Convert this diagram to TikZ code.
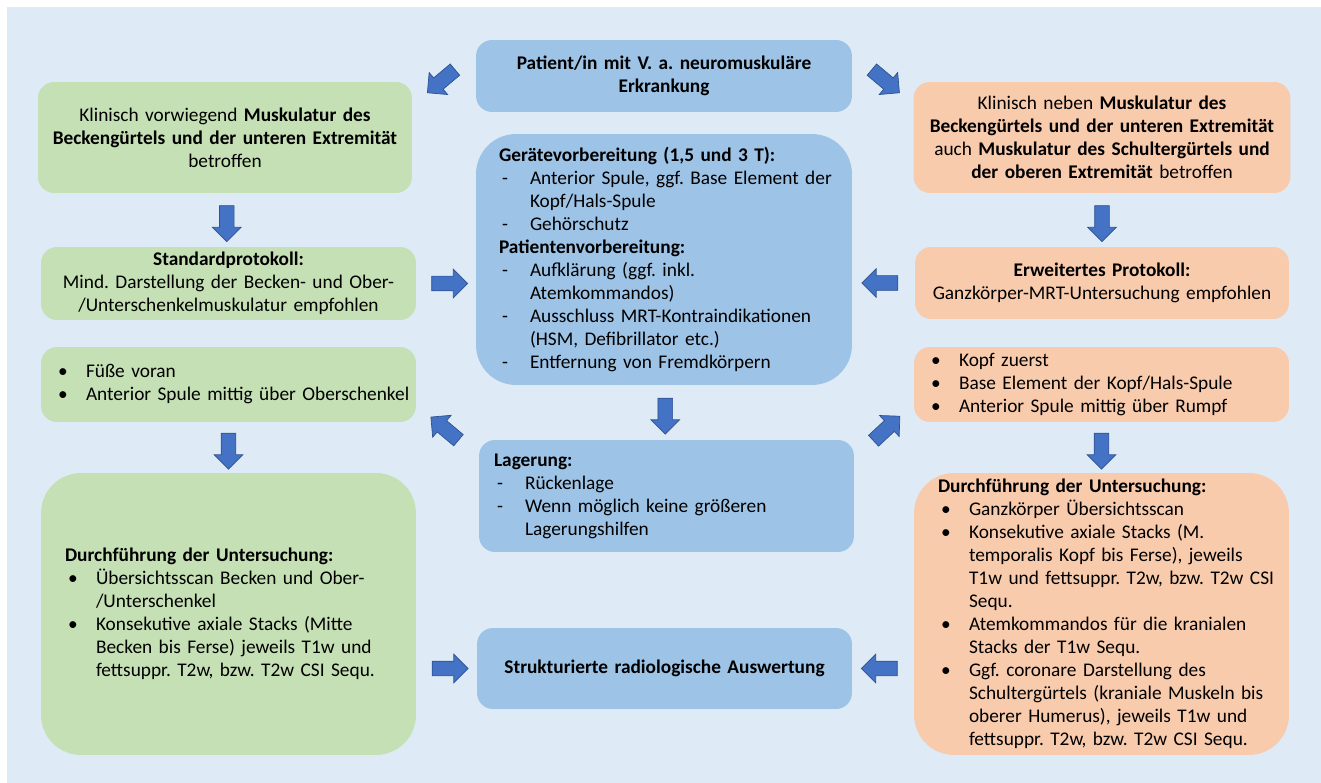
\documentclass[tikz,border=0pt]{standalone}
\usepackage{fontspec}
\setmainfont{Carlito}
\usetikzlibrary{shapes.arrows,calc}
\definecolor{bgblue}{HTML}{DEEBF7}
\definecolor{boxgreen}{HTML}{C5E0B4}
\definecolor{boxblue}{HTML}{9DC3E6}
\definecolor{boxorange}{HTML}{F8CBAD}
\definecolor{arrowfill}{HTML}{4472C4}
\definecolor{arrowline}{HTML}{2F528F}
\frenchspacing
\hfuzz=3cm
% list lines: item with symbol, continuation line
\newcommand\itm[2]{\mbox{\makebox[0.62cm][l]{\hspace{0.06cm}#1}#2}}
\newcommand\cnt[1]{\mbox{\hspace*{0.62cm}#1}}
\tikzset{box/.style={rounded corners=0.32cm, inner ysep=0pt, font=\fontsize{11}{13.1}\selectfont},
  green/.style={box, fill=boxgreen},
  blue/.style={box, fill=boxblue},
  orange/.style={box, fill=boxorange},
  big/.style={rounded corners=0.8cm},
  barrow/.style={single arrow, fill=arrowfill, draw=arrowline, line width=0.4pt,
    minimum height=0.72cm, minimum width=0.56cm, single arrow head extend=0.14cm,
    single arrow head indent=0pt, inner xsep=0pt, inner ysep=0.14cm}}

\begin{document}
\begin{tikzpicture}[x=0.02cm, y=-0.02cm]
  \useasboundingbox (0,0) rectangle (1321,783);
  \fill[bgblue] (7,7) rectangle (1321,783);
  % middle column
  \node[blue, minimum width=7.52cm, minimum height=1.44cm, text width=7.2cm, align=center] (m1) at (664,76)
    {\textbf{Patient/in mit V. a. neuromuskuläre}\\\textbf{Erkrankung}};
  \node[blue, big, minimum width=7.52cm, minimum height=5.02cm, inner xsep=0.46cm, text width=6.6cm, align=left] (m2) at (664,259.5)
    {\mbox{\textbf{Gerätevorbereitung (1,5 und 3 T):}}\\
     \itm{-}{Anterior Spule, ggf. Base Element der}\\
     \cnt{Kopf/Hals-Spule}\\
     \itm{-}{Gehörschutz}\\
     \mbox{\textbf{Patientenvorbereitung:}}\\
     \itm{-}{Aufklärung (ggf. inkl.}\\
     \cnt{Atemkommandos)}\\
     \itm{-}{Ausschluss MRT-Kontraindikationen}\\
     \cnt{(HSM, Defibrillator etc.)}\\
     \itm{-}{Entfernung von Fremdkörpern}};
  \node[blue, minimum width=7.5cm, minimum height=2.24cm, inner xsep=0.3cm, text width=6.9cm, align=left] (m3) at (666.5,496)
    {\mbox{\textbf{Lagerung:}}\\
     \itm{-}{Rückenlage}\\
     \itm{-}{Wenn möglich keine größeren}\\
     \cnt{Lagerungshilfen}};
  \node[blue, minimum width=7.5cm, minimum height=1.62cm, text width=7.2cm, align=center] (m4) at (664.5,668.5)
    {\textbf{Strukturierte radiologische Auswertung}};
  % left column
  \node[green, minimum width=7.48cm, minimum height=2.22cm, text width=7.2cm, align=center] (l1) at (225,137.5)
    {Klinisch vorwiegend \textbf{Muskulatur des}\\\textbf{Beckengürtels und der unteren Extremität}\\betroffen};
  \node[green, minimum width=7.5cm, minimum height=1.46cm, text width=7.2cm, align=center] (l2) at (228.5,283.5)
    {\textbf{Standardprotokoll:}\\Mind. Darstellung der Becken- und Ober-\\/Unterschenkelmuskulatur empfohlen};
  \node[green, minimum width=7.5cm, minimum height=1.5cm, inner xsep=0.28cm, text width=6.94cm, align=left] (l3) at (228.5,384.5)
    {\itm{\textbullet}{Füße voran}\\
     \itm{\textbullet}{Anterior Spule mittig über Oberschenkel}};
  \node[green, big, minimum width=7.5cm, minimum height=5.64cm, inner xsep=0.48cm, text width=6.54cm, align=left] (l4) at (228.5,614)
    {\mbox{\textbf{Durchführung der Untersuchung:}}\\
     \itm{\textbullet}{Übersichtsscan Becken und Ober-}\\
     \cnt{/Unterschenkel}\\
     \itm{\textbullet}{Konsekutive axiale Stacks (Mitte}\\
     \cnt{Becken bis Ferse) jeweils T1w und}\\
     \cnt{fettsuppr. T2w, bzw. T2w CSI Sequ.}};
  % right column
  \node[orange, minimum width=7.48cm, minimum height=2.22cm, text width=7.3cm, align=center] (r1) at (1102,137.5)
    {Klinisch neben \textbf{Muskulatur des}\\\textbf{Beckengürtels und der unteren Extremität}\\auch \textbf{Muskulatur des Schultergürtels und}\\\textbf{der oberen Extremität} betroffen};
  \node[orange, minimum width=7.48cm, minimum height=1.44cm, text width=7.2cm, align=center] (r2) at (1102,283)
    {\textbf{Erweitertes Protokoll:}\\Ganzkörper-MRT-Untersuchung empfohlen};
  \node[orange, minimum width=7.5cm, minimum height=1.5cm, inner xsep=0.28cm, text width=6.94cm, align=left] (r3) at (1101.5,384.5)
    {\itm{\textbullet}{Kopf zuerst}\\
     \itm{\textbullet}{Base Element der Kopf/Hals-Spule}\\
     \itm{\textbullet}{Anterior Spule mittig über Rumpf}};
  \node[orange, big, minimum width=7.5cm, minimum height=5.64cm, inner xsep=0.48cm, text width=6.54cm, align=left] (r4) at (1101.5,614)
    {\mbox{\textbf{Durchführung der Untersuchung:}}\\
     \itm{\textbullet}{Ganzkörper Übersichtsscan}\\
     \itm{\textbullet}{Konsekutive axiale Stacks (M.}\\
     \cnt{temporalis Kopf bis Ferse), jeweils}\\
     \cnt{T1w und fettsuppr. T2w, bzw. T2w CSI}\\
     \cnt{Sequ.}\\
     \itm{\textbullet}{Atemkommandos für die kranialen}\\
     \cnt{Stacks der T1w Sequ.}\\
     \itm{\textbullet}{Ggf. coronare Darstellung des}\\
     \cnt{Schultergürtels (kraniale Muskeln bis}\\
     \cnt{oberer Humerus), jeweils T1w und}\\
     \cnt{fettsuppr. T2w, bzw. T2w CSI Sequ.}};
  % block arrows
  \node[barrow, rotate=220] (a1) at ($(m1.west)!.5!(l1.north east)$) {};
  \node[barrow, rotate=-40] (a2) at ($(m1.east)!.5!(r1.north west)$) {};
  \node[barrow, rotate=-90] (a3) at ($(l1.south)!.5!(l2.north)$) {};
  \node[barrow, rotate=-90] (a4) at ($(r1.south)!.5!(r2.north)$) {};
  \node[barrow] (a5) at ($(l2.east)!.5!(l2.east -| m2.west)$) {};
  \node[barrow, rotate=180] (a6) at ($(r2.west)!.5!(r2.west -| m2.east)$) {};
  \node[barrow, rotate=-90] (a7) at ($(m2.south)!.5!(m3.north)$) {};
  \node[barrow, rotate=140] (a8) at ($(m3.north west)!.5!(l3.south east)$) {};
  \node[barrow, rotate=43] (a9) at ($(m3.north east)!.5!(r3.south west)$) {};
  \node[barrow, rotate=-90] (a10) at ($(l3.south)!.5!(l4.north)$) {};
  \node[barrow, rotate=-90] (a11) at ($(r3.south)!.5!(r4.north)$) {};
  \node[barrow] (a12) at ($(m4.west -| l4.east)!.5!(m4.west)$) {};
  \node[barrow, rotate=180] (a13) at ($(m4.east -| r4.west)!.5!(m4.east)$) {};
\end{tikzpicture}
\end{document}
